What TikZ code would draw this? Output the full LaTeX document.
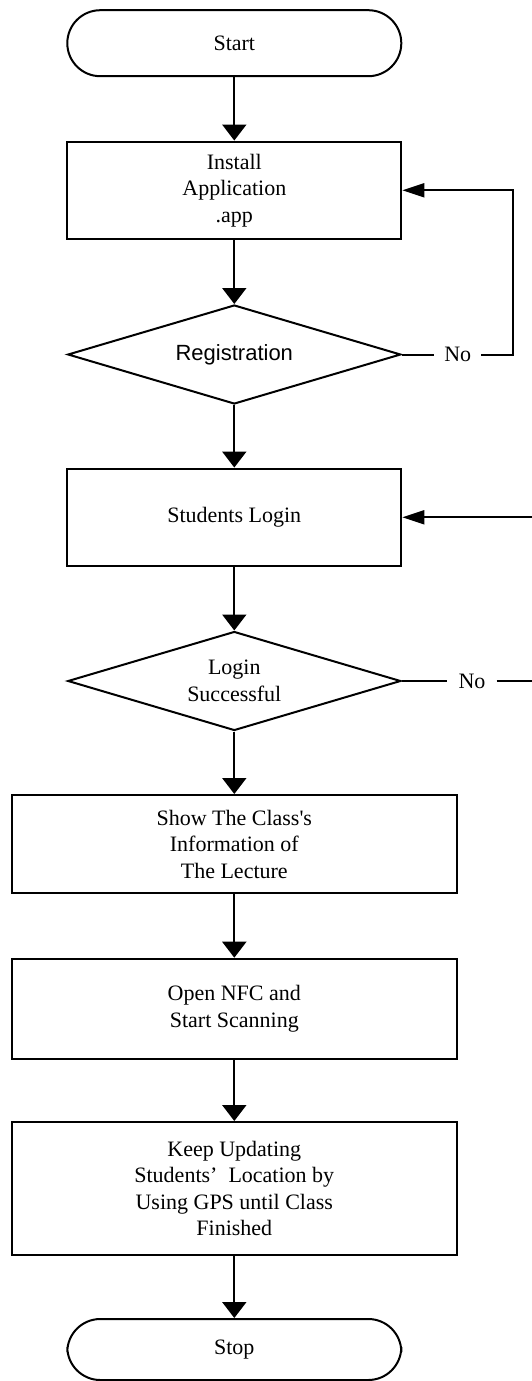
\documentclass[tikz,border=0pt]{standalone}
\usepackage{fontspec}
\setmainfont{Liberation Serif}
\newfontfamily\arialfont{Liberation Sans}
\usetikzlibrary{arrows.meta,shapes.geometric}
\begin{document}
\begin{tikzpicture}[x=1pt,y=-1pt,
  base/.style={draw, line width=2pt, inner sep=0pt, align=center, font=\fontsize{22}{26.5}\selectfont},
  term/.style={base, rectangle, rounded corners=33pt, minimum width=334pt, minimum height=66pt},
  proc/.style={base, rectangle, minimum width=334pt},
  wideproc/.style={base, rectangle, minimum width=445.5pt},
  decision/.style={base, diamond, aspect=3.36, minimum width=333pt, minimum height=99pt},
  flow/.style={line width=2pt, -{Triangle[width=24pt,length=16pt]}},
  back/.style={line width=2pt, -{Triangle[width=14pt,length=22pt]}},
  plain/.style={line width=2pt},
  lbl/.style={inner xsep=10pt, inner ysep=0pt, font=\fontsize{22}{26.5}\selectfont}]
\useasboundingbox (0,0) rectangle (532,1381);

\node[term] (start) at (234.3,43.2) {Start};
\node[proc, minimum height=97.5pt] (install) at (234.3,190.3) {Install\\Application\\.app};
\node[decision, font=\arialfont\fontsize{22}{26.5}\selectfont] (reg) at (234.3,354.5) {Registration};
\node[proc, minimum height=97.5pt] (login) at (234.3,517.3) {Students Login};
\node[decision] (succ) at (234.3,681) {Login\\Successful};
\node[wideproc, minimum height=98pt] (show) at (234.3,844) {Show The Class\textquotesingle s\\Information of\\The Lecture};
\node[wideproc, minimum height=100pt] (nfc) at (234.3,1008.7) {Open NFC and\\Start Scanning};
\node[wideproc, minimum height=133pt] (keep) at (234.3,1188.5) {Keep Updating\\Students’~~Location by\\Using GPS until Class\\Finished};
\node[term, minimum height=61pt] (stop) at (234.3,1349.5) {Stop};

\node[lbl] (no1) at (457.7,354.5) {No};
\node[lbl, inner xsep=11pt] (no2) at (472,681) {No};
\coordinate (c1) at (512.7,354.5);
\coordinate (e1) at (532,681);
\coordinate (e2) at (532,517.3);

\draw[flow] (start) -- (install);
\draw[flow] (install) -- (reg);
\draw[flow] (reg) -- (login);
\draw[flow] (login) -- (succ);
\draw[flow] (succ) -- (show);
\draw[flow] (show) -- (nfc);
\draw[flow] (nfc) -- (keep);
\draw[flow] (keep) -- (stop);

\draw[plain] (reg.east) -- (no1);
\draw[back] (no1.east) -- (c1) |- (install.east);
\draw[plain] (succ.east) -- (no2);
\draw[plain] (no2.east) -- (e1);
\draw[back] (e2) -- (login.east);
\end{tikzpicture}
\end{document}
